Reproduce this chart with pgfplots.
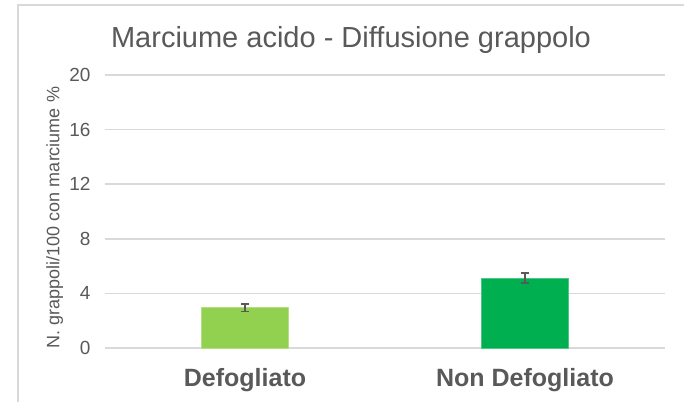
\documentclass[border=0pt]{standalone}
\usepackage{fontspec}
\setmainfont{Liberation Sans}
\usepackage{pgfplots}
\pgfplotsset{compat=1.18}
\definecolor{txt}{HTML}{595959}
\definecolor{gridc}{HTML}{D9D9D9}
\definecolor{lgreen}{HTML}{92D050}
\definecolor{dgreen}{HTML}{00B050}

\begin{document}
\begin{tikzpicture}[x=1bp,y=1bp]
\useasboundingbox (0,0) rectangle (684,402);
\draw[gridc, line width=1.5bp] (18,0) -- (18,397) -- (684,397);

\begin{axis}[
    at={(105bp,54bp)}, anchor=south west,
    scale only axis,
    width=560bp, height=273bp,
    xmin=-0.5, xmax=1.5,
    ymin=0, ymax=20,
    ytick={0,4,8,12,16,20},
    xtick={0,1},
    xticklabels={Defogliato, Non Defogliato},
    axis line style={draw=none},
    ymajorgrids,
    grid style={gridc, line width=1.5bp},
    major tick length=0pt,
    /pgf/number format/assume math mode=true,
    yticklabel style={font=\fontsize{19bp}{19bp}\selectfont, text=txt, anchor=east, xshift=-11bp},
    xticklabel style={font=\fontsize{25bp}{25bp}\selectfont\bfseries, text=txt, anchor=base, yshift=-38bp},
    ybar, bar width=87bp, bar shift=0pt,
    clip=false,
]
\addplot[fill=lgreen, draw=lgreen!70!white, line width=0.6bp,
    error bars/.cd, y dir=both, y explicit,
    error bar style={txt, line width=1.5bp},
    error mark options={rotate=90, mark size=4bp, line width=1.5bp, txt}]
    coordinates {(0,2.95) +- (0,0.27)};
\addplot[fill=dgreen, draw=dgreen!70!white, line width=0.6bp,
    error bars/.cd, y dir=both, y explicit,
    error bar style={txt, line width=1.5bp},
    error mark options={rotate=90, mark size=4bp, line width=1.5bp, txt}]
    coordinates {(1,5.13) +- (0,0.35)};
\end{axis}

\node[anchor=base, text=txt, font=\fontsize{29bp}{29bp}\selectfont] at (351,354.3)
    {Marciume acido - Diffusione grappolo};
\node[rotate=90, text=txt, font=\fontsize{18bp}{18bp}\selectfont] at (54.6,184.5)
    {N. grappoli/100 con marciume \%};
\end{tikzpicture}
\end{document}
